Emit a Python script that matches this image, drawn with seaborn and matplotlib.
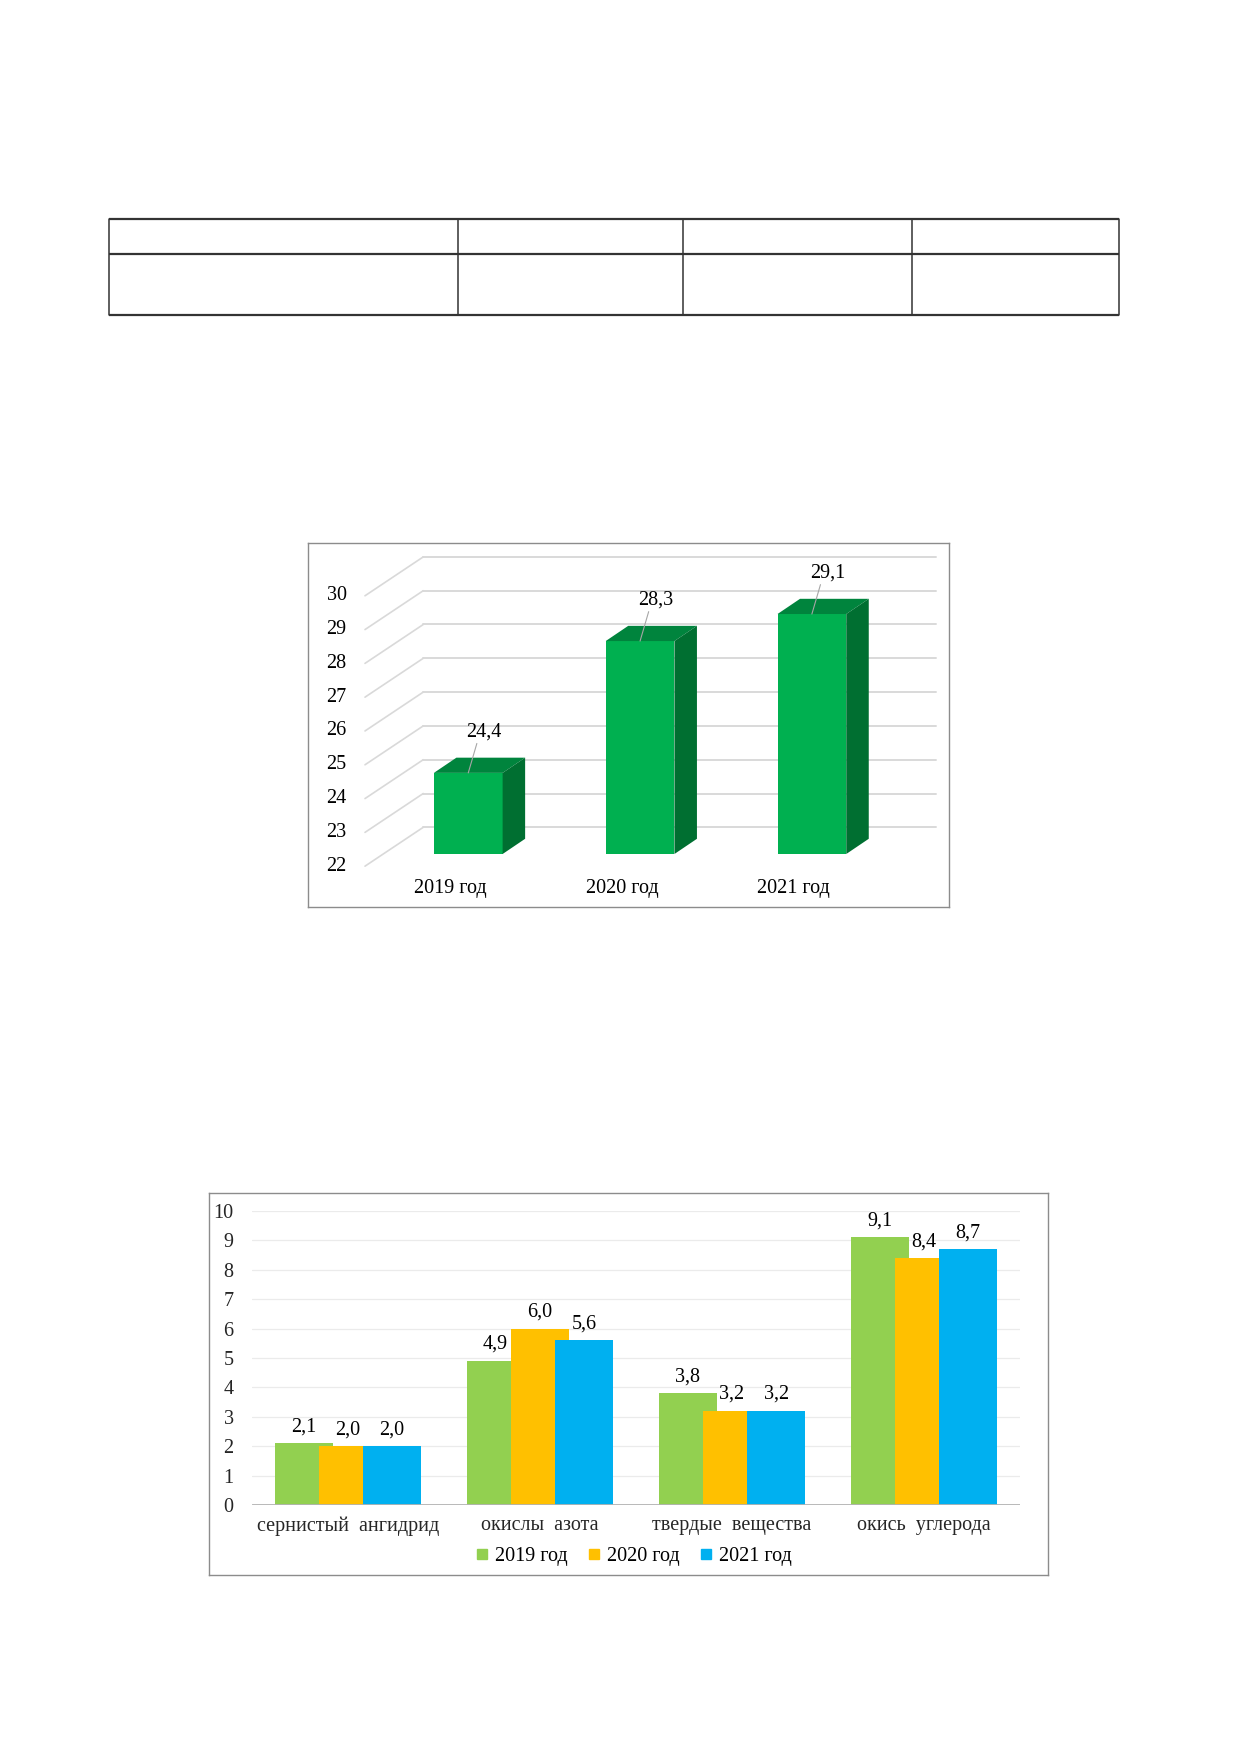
import matplotlib
matplotlib.use('Agg')
import matplotlib.pyplot as plt
import seaborn as sns
import pandas as pd
from matplotlib.patches import Polygon
from matplotlib.lines import Line2D

# chart 1: total emissions by year (3D-looking bars)
years = ['2019 год', '2020 год', '2021 год']
total_emission = [24.4, 28.3, 29.1]
axis1_ticks = [22, 23, 24, 25, 26, 27, 28, 29, 30]

# chart 2: emissions by substance
substances = ['сернистый  ангидрид', 'окислы  азота', 'твердые  вещества', 'окись  углерода']
emission_2019 = [2.1, 4.9, 3.8, 9.1]
emission_2020 = [2.0, 6.0, 3.2, 8.4]
emission_2021 = [2.0, 5.6, 3.2, 8.7]
axis2_ticks = list(range(0, 11))

year_colors = ['#92D050', '#FFC000', '#00B0F0']

W, H = 1240, 1754
FS = 14.5


def rect(x0, y0, x1, y1):
    # pixel box (top-left origin) -> figure fraction
    return [x0 / W, 1 - y1 / H, (x1 - x0) / W, (y1 - y0) / H]


def comma(v):
    return f'{v:.1f}'.replace('.', ',')


sns.set_theme(style='white')
plt.rcParams['font.family'] = ['Liberation Serif', 'DejaVu Serif']
plt.rcParams['text.color'] = 'black'

fig = plt.figure(figsize=(12.4, 17.54), dpi=100)

# ---- empty table at the top ----
axt = fig.add_axes(rect(109, 219, 1119, 315))
axt.set_xlim(0, 1)
axt.set_ylim(0, 1)
axt.axis('off')
col_edges = [0, (457.5 - 109) / 1010, (683 - 109) / 1010, (912 - 109) / 1010, 1]
for yy in [0, 1, (315 - 254) / 96]:
    axt.plot([0, 1], [yy, yy], color='#333333', lw=1.6, clip_on=False, solid_capstyle='butt')
for xx in col_edges:
    axt.plot([xx, xx], [0, 1], color='#333333', lw=1.1, clip_on=False)

# ---- chart 1 ----
ax1 = fig.add_axes(rect(308.3, 542.7, 949, 906.7))
base = 22
dx, dy = 0.131, 0.45          # bar depth
front_x, back_x, right_x = -0.601, -0.262, 2.72
front_off, back_off = -0.36, 0.79
grid_c = '#D9D9D9'

for t in axis1_ticks:
    ax1.plot([front_x, back_x], [t + front_off, t + back_off], color=grid_c, lw=1.2, zorder=1)
    ax1.plot([back_x, right_x], [t + back_off, t + back_off], color=grid_c, lw=1.4, zorder=1)
    ax1.text(-0.708, t + front_off, str(t), ha='right', va='center', fontsize=FS)

sns.barplot(x=years, y=total_emission, color='#00B050', saturation=1, width=0.4,
            ax=ax1, zorder=3)
for i, (p, v) in enumerate(zip(ax1.patches, total_emission)):
    p.set_y(base)
    p.set_height(v - base)
    p.set_edgecolor('none')
    x0, w = p.get_x(), p.get_width()
    top = Polygon([(x0, v), (x0 + dx, v + dy), (x0 + w + dx, v + dy), (x0 + w, v)],
                  closed=True, facecolor='#00843D', edgecolor='none', zorder=3)
    side = Polygon([(x0 + w, base), (x0 + w + dx, base + dy), (x0 + w + dx, v + dy), (x0 + w, v)],
                   closed=True, facecolor='#006F31', edgecolor='none', zorder=3)
    ax1.add_patch(top)
    ax1.add_patch(side)
    cx = x0 + w / 2
    ax1.plot([cx, cx + 0.05], [v, v + 0.87], color='#A6A6A6', lw=0.8, zorder=4)
    ax1.text(cx + 0.09, v + 1.2, comma(v), ha='center', va='center', fontsize=FS, zorder=5)
    ax1.text(cx - 0.106, 20.985, years[i], ha='center', va='center', fontsize=FS)

ax1.set_xlim(-0.931, (949 - 468.3) / 171.8)
ax1.set_ylim(20.441, 31.210)
ax1.set_xticks([])
ax1.set_yticks([])
ax1.set_xlabel('')
ax1.set_ylabel('')
for s in ax1.spines.values():
    s.set_visible(True)
    s.set_color('#8C8C8C')
    s.set_linewidth(1.0)

# ---- chart 2 ----
ax2f = fig.add_axes(rect(209.3, 1193.3, 1048.3, 1575))
ax2f.set_xticks([])
ax2f.set_yticks([])
for s in ax2f.spines.values():
    s.set_visible(True)
    s.set_color('#8C8C8C')
    s.set_linewidth(1.0)

ax2 = fig.add_axes(rect(251.7, 1211, 1020, 1505))
ax2.set_facecolor('none')
df = pd.DataFrame({
    'substance': substances * 3,
    'year': [y for y in years for _ in substances],
    'value': emission_2019 + emission_2020 + emission_2021,
})
sns.barplot(data=df, x='substance', y='value', hue='year', palette=year_colors,
            saturation=1, width=0.69, dodge=True, legend=False, ax=ax2, zorder=3)

bar_w = 0.302
for cont in ax2.containers:
    vals = [p.get_height() for p in cont]
    ax2.bar_label(cont, labels=[comma(v) for v in vals], padding=5, fontsize=FS, zorder=5)
    for p in cont:
        c = p.get_x() + p.get_width() / 2
        p.set_width(bar_w)
        p.set_x(c - bar_w / 2)
        p.set_edgecolor('none')

ax2.set_ylim(0, 10)
ax2.set_xlim(-0.5, 3.5)
ax2.set_yticks(axis2_ticks)
ax2.grid(axis='y', color='#EBEBEB', lw=0.9)
ax2.grid(axis='x', visible=False)
ax2.set_axisbelow(True)
ax2.axhline(0, color='#B3B3B3', lw=2.0, zorder=4)
for s in ax2.spines.values():
    s.set_visible(False)
ax2.tick_params(axis='y', length=0, pad=13, labelsize=FS)
ax2.tick_params(axis='x', length=0, pad=8, labelsize=FS)
ax2.set_xlabel('')
ax2.set_ylabel('')

handles = [Line2D([], [], marker='s', ls='none', color=c, markersize=7.5) for c in year_colors]
ax2.legend(handles, years, loc='center', bbox_to_anchor=(633.8 / W, 1 - 1556.7 / H),
           bbox_transform=fig.transFigure, ncol=3, frameon=False, fontsize=FS,
           handlelength=0.6, handletextpad=0.35, columnspacing=1.0)

fig.savefig('out.png', dpi=100)
